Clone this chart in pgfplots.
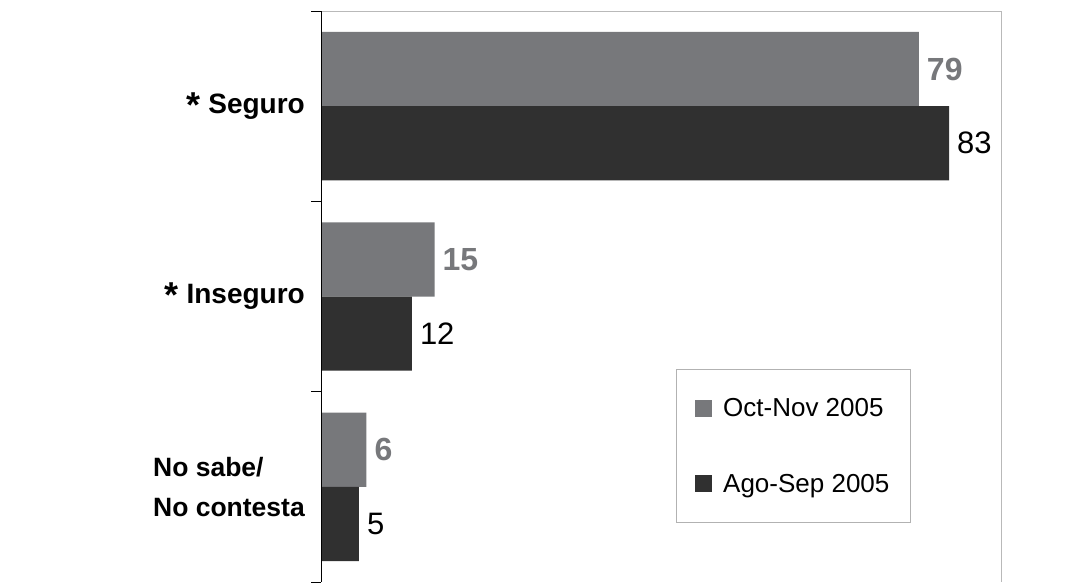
\documentclass[border=0pt]{standalone}
\usepackage{fontspec}
\setmainfont{Liberation Sans}
\usepackage{pgfplots}
\pgfplotsset{compat=1.18}
\definecolor{barlight}{HTML}{77787B}
\definecolor{bardark}{HTML}{303030}
\newcommand{\bigast}{\raisebox{-4pt}{\fontsize{36}{36}\selectfont *}\hspace{8pt}}
\newcommand{\nsfont}{\fontsize{26.5}{40}\selectfont}
\begin{document}
\begin{tikzpicture}
\path[use as bounding box] (0,0) rectangle (1081pt,582pt);
\begin{axis}[
 at={(321pt,0pt)}, anchor=south west,
 scale only axis, width=681pt, height=571pt,
 xbar, xmin=0, xmax=90, ymin=-0.5, ymax=2.5,
 bar width=0.39,
 /pgf/number format/assume math mode=true,
 axis line style={draw=none},
 xtick=\empty,
 ytick pos=left,
 ytick={-0.5,0.5,1.5,2.5},
 yticklabels={},
 major tick length=10pt,
 tick align=outside,
 ytick style={black, line width=1pt},
 extra y ticks={0,1,2},
 extra y tick labels={{\nsfont No sabe/\\\nsfont No contesta},{\bigast Inseguro},{\bigast Seguro}},
 extra y tick style={ytick style={draw=none}, yticklabel style={font=\fontsize{28}{40}\selectfont\bfseries, align=left, inner sep=0pt, xshift=-6pt}},
 legend style={at={(0.521,0.373)}, anchor=north west, draw=gray!60, line width=0.8pt,
   font=\fontsize{26}{26}\selectfont, row sep=52pt, inner xsep=19pt, inner ysep=27pt},
 legend cell align=left,
 legend image code/.code={\fill[#1] (0pt,-8.5pt) rectangle (17pt,8.5pt);},
]
\addplot[fill=barlight, draw=none, bar shift=0.195, nodes near coords,
  every node near coord/.append style={font=\fontsize{32}{32}\selectfont\bfseries, color=barlight, inner sep=0pt, xshift=8pt, anchor=west}]
  coordinates {(79,2) (15,1) (6,0)};
\addplot[fill=bardark, draw=none, bar shift=-0.195, nodes near coords,
  every node near coord/.append style={font=\fontsize{31}{31}\selectfont, color=black, inner sep=0pt, xshift=8pt, anchor=west}]
  coordinates {(83,2) (12,1) (5,0)};
\legend{\hspace{9pt}Oct-Nov 2005, \hspace{9pt}Ago-Sep 2005}
\draw[gray!55, line width=1pt] (rel axis cs:0,1) -- (rel axis cs:1,1) -- (rel axis cs:1,0);
\draw[black, line width=1.5pt] (rel axis cs:0,0) -- (rel axis cs:0,1);
\end{axis}
\end{tikzpicture}
\end{document}
